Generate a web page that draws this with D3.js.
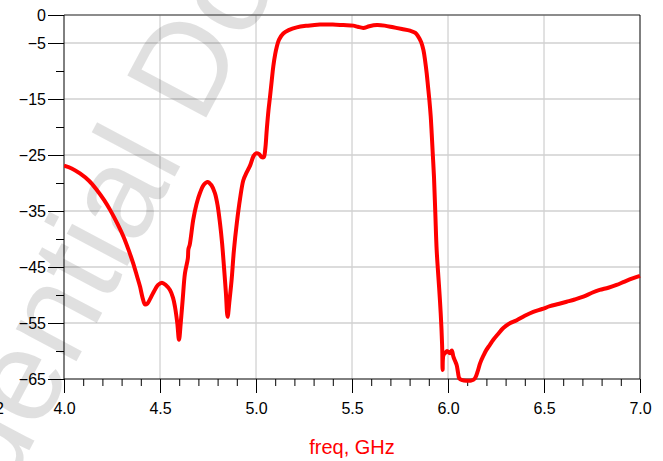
<!DOCTYPE html>
<html>
<head>
<meta charset="utf-8">
<script src="https://cdn.jsdelivr.net/npm/d3@7"></script>
<style>
  body{margin:0;background:#fff}
  svg{display:block;font-family:"Liberation Sans",Arial,sans-serif}
</style>
</head>
<body>
<svg id="chart" width="663" height="461"></svg>
<script>
// S21 trace (GHz, dB)
const freq = [4.00,4.04,4.083,4.13,4.17,4.21,4.24,4.28,4.31,4.34,4.36,4.38,4.396,4.41,4.422,4.435,4.45,4.465,4.49,4.51,
  4.53,4.552,4.568,4.578,4.59,4.599,4.608,4.618,4.63,4.645,4.648,4.655,4.673,4.69,4.708,4.728,4.748,4.768,4.786,4.80,
  4.8125,4.823,4.833,4.843,4.852,4.862,4.873,4.885,4.90,4.917,4.934,4.95,4.969,4.987,5.0,5.015,5.03,5.04,5.048,5.056,
  5.065,5.073,5.082,5.09,5.10,5.108,5.12,5.142,5.17,5.212,5.27,5.333,5.40,5.455,5.507,5.53,5.559,5.59,5.63,5.67,
  5.715,5.76,5.802,5.83,5.846,5.86,5.872,5.881,5.889,5.896,5.903,5.91,5.915,5.921,5.927,5.934,5.941,5.95,5.958,5.966,
  5.970,5.972,5.976,5.984,5.995,6.01,6.02,6.028,6.037,6.045,6.052,6.059,6.075,6.097,6.12,6.14,6.155,6.167,6.185,6.20,
  6.218,6.236,6.26,6.288,6.32,6.358,6.40,6.444,6.49,6.531,6.575,6.618,6.66,6.705,6.75,6.79,6.835,6.878,6.92,6.965,7.0]
const s21 = [-26.9,-27.4,-28.3,-29.6,-31.2,-33.1,-34.8,-37.4,-39.6,-42.3,-44.3,-46.6,-48.5,-50.6,-51.7,-51.5,-50.6,-49.6,-48.2,-47.8,
  -48.2,-49.1,-50.5,-52.1,-55.0,-58.0,-55.0,-50.9,-46.1,-43.5,-41.8,-41.0,-36.6,-33.8,-31.8,-30.3,-29.8,-30.4,-31.8,-34.0,
  -37.2,-40.6,-44.9,-49.5,-53.9,-51.0,-47.3,-42.0,-37.2,-32.8,-29.5,-28.2,-26.9,-25.2,-24.7,-24.8,-25.4,-25.4,-24.0,-20.5,
  -17.0,-14.6,-11.7,-9.2,-7.0,-5.7,-4.4,-3.3,-2.7,-2.2,-1.9,-1.7,-1.7,-1.8,-1.9,-2.1,-2.3,-2.0,-1.8,-1.9,
  -2.2,-2.5,-2.8,-3.2,-3.9,-4.8,-6.25,-8.2,-10.4,-12.8,-15.2,-18.1,-21.1,-25.0,-28.9,-35.5,-42.0,-46.8,-50.9,-56.0,
  -59.8,-63.4,-60.8,-60.4,-60.0,-60.4,-59.9,-61.0,-61.8,-62.5,-63.8,-64.9,-65.2,-65.3,-65.3,-64.9,-63.6,-62.2,-60.8,-59.8,
  -58.9,-58.0,-57.0,-55.9,-55.1,-54.5,-53.7,-53.0,-52.5,-52.0,-51.6,-51.2,-50.8,-50.3,-49.6,-49.1,-48.7,-48.2,-47.6,-47.0,-46.6]

const xTicks = [4.0,4.5,5.0,5.5,6.0,6.5,7.0]
const xMinor = d3.range(40,71).map(v=>v/10)
const yTicks = [0,-5,-15,-25,-35,-45,-55,-65]
const yMinor = [-10,-20,-30,-40,-50,-60]
const xTitle = 'freq, GHz'
const watermark = 'Confidential Document'

const L = 64, R = 640, T = 15, B = 379

let svg = d3.select('#chart')
let x = d3.scaleLinear().domain([4,7]).range([L,R])
let y = d3.scaleLinear().domain([-65,0]).range([B,T])

// grid
let grid = svg.append('g')
grid.selectAll('.gx')
  .data(xTicks.slice(1,-1))
  .join('line')
  .attr('x1',d=>x(d)).attr('x2',d=>x(d))
  .attr('y1',T).attr('y2',B)
  .attr('stroke','#c4c4c4').attr('stroke-width',1)
grid.selectAll('.gy')
  .data(yTicks.slice(1,-1))
  .join('line')
  .attr('x1',L).attr('x2',R)
  .attr('y1',d=>y(d)).attr('y2',d=>y(d))
  .attr('stroke','#d0d0d0').attr('stroke-width',1.5)

// faint watermark over the grid
svg.append('text')
  .attr('transform','translate(-138,765) rotate(-62)')
  .attr('font-size',130)
  .attr('fill','#000')
  .attr('fill-opacity',0.12)
  .text(watermark)

// frame
svg.append('line').attr('x1',L).attr('x2',R).attr('y1',T).attr('y2',T)
  .attr('stroke','#666').attr('stroke-width',1.5)
svg.append('line').attr('x1',R).attr('x2',R).attr('y1',T).attr('y2',B)
  .attr('stroke','#000').attr('stroke-width',1)

let styleAxis = g=>{
  g.attr('font-family',null).attr('font-size',16)
  g.select('.domain').remove()
  g.selectAll('line').attr('stroke','#000')
  g.selectAll('text').attr('fill','#000')
}

// x axis
svg.append('g').attr('transform',`translate(0,${B})`)
  .call(d3.axisBottom(x).tickValues(xMinor).tickSize(7).tickFormat(''))
  .call(styleAxis)
svg.append('g').attr('transform',`translate(0,${B})`)
  .call(d3.axisBottom(x).tickValues(xTicks).tickSize(14).tickPadding(10).tickFormat(d3.format('.1f')))
  .call(styleAxis)

// y axis
svg.append('g').attr('transform',`translate(${L},0)`)
  .call(d3.axisLeft(y).tickValues(yMinor).tickSize(8).tickFormat(''))
  .call(styleAxis)
svg.append('g').attr('transform',`translate(${L},0)`)
  .call(d3.axisLeft(y).tickValues(yTicks).tickSize(16).tickPadding(2).tickFormat(d3.format('d')))
  .call(styleAxis)

svg.append('line').attr('x1',L).attr('x2',L).attr('y1',T).attr('y2',B)
  .attr('stroke','#000').attr('stroke-width',1)
svg.append('line').attr('x1',L).attr('x2',R).attr('y1',B).attr('y2',B)
  .attr('stroke','#000').attr('stroke-width',1)

// stray label cut by the left edge
svg.append('text').attr('x',4).attr('y',414)
  .attr('text-anchor','end').attr('font-size',16).text('2')

// x title
svg.append('text')
  .attr('x',352).attr('y',454)
  .attr('text-anchor','middle')
  .attr('font-size',20)
  .attr('fill','#ff0000')
  .text(xTitle)

// trace, clipped a little past the frame so the floor still shows
svg.append('clipPath').attr('id','plot')
  .append('rect').attr('x',L).attr('y',T-4).attr('width',R-L+2).attr('height',B-T+8)

let line = d3.line()
  .x(i=>x(freq[i]))
  .y(i=>y(s21[i]))
  .curve(d3.curveCatmullRom.alpha(0.5))

svg.append('path')
  .datum(d3.range(freq.length))
  .attr('clip-path','url(#plot)')
  .attr('fill','none')
  .attr('stroke','#ff0000')
  .attr('stroke-width',4)
  .attr('stroke-linejoin','round')
  .attr('d',line)
</script>
</body>
</html>
